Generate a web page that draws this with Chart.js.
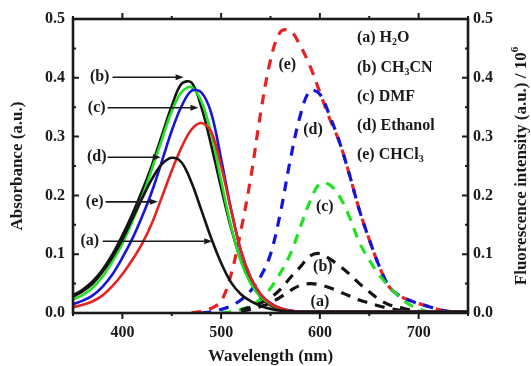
<!DOCTYPE html>
<html>
<head>
<meta charset="utf-8">
<script src="https://cdn.jsdelivr.net/npm/chart.js@4.4.0/dist/chart.umd.min.js"></script>
<style>
  html, body { margin: 0; padding: 0; background: #fff; }
  #wrap { width: 531px; height: 366px; position: relative; }
</style>
</head>
<body>
<div id="wrap"><canvas id="chart"></canvas></div>
<script>
// wavelength grid (nm), shared by every series
const wavelength = [350,360,370,380,390,400,410,420,430,440,450,460,470,480,490,500,510,520,530,540,550,
  560,570,580,590,600,610,620,630,640,650,660,670,680,690,700,710,720,730,740,750];

// absorbance (left axis), solid lines
const absA = [0.028,0.037,0.050,0.070,0.095,0.125,0.160,0.195,0.228,0.253,0.264,0.256,0.222,0.175,0.127,0.085,0.052,0.032,0.020,0.012,0.007,0.004,0.003,
  0.002,0.002,0.002,0.002,0.002,0.002,0.002,0.002,0.002,0.002,0.002,0.002,0.002,0.002,0.002,0.002,0.002,0.002];
const absB = [0.030,0.040,0.054,0.074,0.100,0.132,0.168,0.208,0.252,0.302,0.352,0.390,0.392,0.350,0.285,0.213,0.145,0.090,0.052,0.027,0.013,0.006,0.003,
  0.002,0.002,0.002,0.002,0.002,0.002,0.002,0.002,0.002,0.002,0.002,0.002,0.002,0.002,0.002,0.002,0.002,0.002];
const absC = [0.023,0.031,0.043,0.062,0.088,0.118,0.155,0.197,0.245,0.295,0.343,0.376,0.384,0.360,0.305,0.225,0.148,0.088,0.050,0.028,0.015,0.007,0.003,
  0.002,0.002,0.002,0.002,0.002,0.002,0.002,0.002,0.002,0.002,0.002,0.002,0.002,0.002,0.002,0.002,0.002,0.002];
const absD = [0.015,0.021,0.030,0.045,0.066,0.094,0.126,0.164,0.207,0.258,0.310,0.352,0.378,0.375,0.340,0.262,0.177,0.106,0.060,0.032,0.017,0.008,0.004,
  0.002,0.002,0.002,0.002,0.002,0.002,0.002,0.002,0.002,0.002,0.002,0.002,0.002,0.002,0.002,0.002,0.002,0.002];
const absE = [0.010,0.014,0.020,0.030,0.046,0.066,0.090,0.118,0.153,0.197,0.242,0.282,0.312,0.323,0.308,0.250,0.176,0.106,0.060,0.032,0.016,0.008,0.004,
  0.002,0.002,0.002,0.002,0.002,0.002,0.002,0.002,0.002,0.002,0.002,0.002,0.002,0.002,0.002,0.002,0.002,0.002];

// fluorescence (right axis, x10^6), dashed lines
const emA = [null,null,null,null,null,null,null,null,null,null,null,null,null,null,null,null,null,
  0.003,0.006,0.011,0.017,0.027,0.038,0.047,0.050,0.048,0.043,0.036,0.029,0.022,0.017,0.012,0.008,0.005,0.003,0.001,0,
  null,null,null,null];
const emB = [null,null,null,null,null,null,null,null,null,null,null,null,null,null,null,null,null,
  0.005,0.010,0.017,0.026,0.040,0.060,0.078,0.097,0.101,0.092,0.080,0.066,0.050,0.036,0.023,0.014,0.010,0.006,0.003,0,
  null,null,null,null];
const emC = [null,null,null,null,null,null,null,null,null,null,null,null,null,null,null,
  0,0.002,0.006,0.012,0.024,0.042,0.068,0.100,0.145,0.190,0.220,0.218,0.198,0.163,0.120,0.090,0.065,0.045,0.028,0.015,0.007,0.002,0,
  null,null,null];
const emD = [null,null,null,null,null,null,null,null,null,null,null,null,null,
  0,0.002,0.006,0.012,0.022,0.038,0.062,0.100,0.170,0.260,0.335,0.378,0.372,0.335,0.290,0.235,0.175,0.125,0.080,0.045,0.030,0.022,0.016,0.011,0.006,0.003,0.001,0];
const emE = [null,null,null,null,null,null,null,null,null,null,null,null,
  0,0.003,0.008,0.020,0.065,0.140,0.230,0.340,0.430,0.478,0.480,0.455,0.420,0.375,0.330,0.290,0.235,0.175,0.125,0.080,0.045,0.030,0.022,0.016,0.011,0.006,0.003,0.001,0];

const xTicks = [400, 500, 600, 700];
const yTicks = [0, 0.1, 0.2, 0.3, 0.4, 0.5];

const INK = '#1a1a1a';
const SERIF = '"Liberation Serif", "Times New Roman", serif';
const COLORS = { a: '#141414', b: '#141414', c: '#22e022', d: '#1515d8', e: '#e62222' };

// labels with arrows on the absorbance side (data units)
const absLabels = [
  { text: '(b)', x: 377, y: 0.401, from: 390, to: 462 },
  { text: '(c)', x: 374, y: 0.349, from: 385, to: 477 },
  { text: '(d)', x: 374, y: 0.265, from: 385, to: 439 },
  { text: '(e)', x: 372, y: 0.189, from: 383, to: 436 },
  { text: '(a)', x: 367, y: 0.122, from: 380, to: 491 }
];
// labels next to the emission peaks
const emLabels = [
  { text: '(e)', x: 567, y: 0.422 },
  { text: '(d)', x: 593, y: 0.311 },
  { text: '(c)', x: 605, y: 0.180 },
  { text: '(b)', x: 603, y: 0.078 },
  { text: '(a)', x: 600, y: 0.019 }
];
// solvent key, parts: [text, subscript?]
const solventKey = [
  [['(a) H', 0], ['2', 1], ['O', 0]],
  [['(b) CH', 0], ['3', 1], ['CN', 0]],
  [['(c) DMF', 0]],
  [['(d) Ethanol', 0]],
  [['(e) CHCl', 0], ['3', 1]]
];
const keyRows = [0.468, 0.417, 0.367, 0.318, 0.269];

function pts(vals) {
  return wavelength.map((w, i) => ({ x: w, y: vals[i] }));
}

function solid(label, vals, color) {
  return { label, data: pts(vals), yAxisID: 'y', borderColor: color, borderWidth: 2.6,
    pointRadius: 0, tension: 0.35, spanGaps: false };
}
function dashed(label, vals, color) {
  return { label, data: pts(vals), yAxisID: 'y1', borderColor: color, borderWidth: 3.2,
    borderDash: [10, 8], pointRadius: 0, tension: 0.35, spanGaps: false };
}

// draws text pieces with subscripts / superscripts, left aligned at x
function richText(ctx, parts, x, y, size) {
  let cx = x;
  parts.forEach(([t, kind]) => {
    const s = kind ? Math.round(size * 0.62) : size;
    ctx.font = 'bold ' + s + 'px ' + SERIF;
    const dy = kind === 1 ? size * 0.28 : (kind === 2 ? -size * 0.38 : 0);
    ctx.fillText(t, cx, y + dy);
    cx += ctx.measureText(t).width;
  });
  return cx - x;
}
function richWidth(ctx, parts, size) {
  let w = 0;
  parts.forEach(([t, kind]) => {
    const s = kind ? Math.round(size * 0.62) : size;
    ctx.font = 'bold ' + s + 'px ' + SERIF;
    w += ctx.measureText(t).width;
  });
  return w;
}

const framePlugin = {
  id: 'frame',
  afterDatasetsDraw(chart) {
    const { ctx, chartArea: a, scales } = chart;
    const sx = scales.x, sy = scales.y, sy1 = scales.y1;
    ctx.save();
    ctx.strokeStyle = INK;
    ctx.fillStyle = INK;

    // box
    ctx.lineWidth = 2.6;
    ctx.strokeRect(a.left, a.top, a.right - a.left, a.bottom - a.top);

    // x ticks (outward, top and bottom)
    ctx.lineWidth = 2;
    ctx.beginPath();
    for (let i = 0; i <= 8; i++) {
      const px = sx.getPixelForValue(350 + i * 50);
      const len = i % 2 === 1 ? 6 : 3;
      ctx.moveTo(px, a.bottom); ctx.lineTo(px, a.bottom + len);
      ctx.moveTo(px, a.top); ctx.lineTo(px, a.top - len);
    }
    // y ticks (inward, left and right)
    for (let i = 0; i <= 10; i++) {
      const py = sy.getPixelForValue(i * 0.05);
      const len = i % 2 === 0 ? 6 : 3;
      ctx.moveTo(a.left, py); ctx.lineTo(a.left + len, py);
      ctx.moveTo(a.right, py); ctx.lineTo(a.right - len, py);
    }
    ctx.stroke();

    // labels with arrows
    ctx.textBaseline = 'middle';
    ctx.textAlign = 'center';
    ctx.font = 'bold 16px ' + SERIF;
    ctx.lineWidth = 1.6;
    absLabels.forEach(l => {
      const py = sy.getPixelForValue(l.y);
      ctx.fillText(l.text, sx.getPixelForValue(l.x), py);
      const x0 = sx.getPixelForValue(l.from), x1 = sx.getPixelForValue(l.to);
      ctx.beginPath(); ctx.moveTo(x0, py); ctx.lineTo(x1 - 5, py); ctx.stroke();
      ctx.beginPath(); ctx.moveTo(x1, py); ctx.lineTo(x1 - 8, py - 3); ctx.lineTo(x1 - 8, py + 3);
      ctx.closePath(); ctx.fill();
    });
    emLabels.forEach(l => {
      ctx.fillText(l.text, sx.getPixelForValue(l.x), sy1.getPixelForValue(l.y));
    });

    // solvent key
    ctx.textAlign = 'left';
    solventKey.forEach((parts, i) => {
      richText(ctx, parts, sx.getPixelForValue(637.5), sy1.getPixelForValue(keyRows[i]), 16);
    });

    // axis titles
    ctx.textAlign = 'center';
    ctx.font = 'bold 17px ' + SERIF;
    ctx.fillText('Wavelength (nm)', (a.left + a.right) / 2, 357);

    const midY = (a.top + a.bottom) / 2;
    ctx.save();
    ctx.translate(18, midY);
    ctx.rotate(-Math.PI / 2);
    ctx.font = 'bold 17px ' + SERIF;
    ctx.fillText('Absorbance (a.u.)', 0, 0);
    ctx.restore();

    const rightTitle = [['Fluorescence intensity (a.u.) / 10', 0], ['6', 2]];
    ctx.save();
    ctx.translate(522, midY);
    ctx.rotate(-Math.PI / 2);
    ctx.textAlign = 'left';
    const w = richWidth(ctx, rightTitle, 17);
    richText(ctx, rightTitle, -w / 2, 0, 17);
    ctx.restore();

    ctx.restore();
  }
};

const tickFont = { family: SERIF, size: 16, weight: 'bold' };

new Chart(document.getElementById('chart'), {
  type: 'line',
  data: {
    datasets: [
      solid('(a) H2O abs', absA, COLORS.a),
      solid('(e) CHCl3 abs', absE, COLORS.e),
      solid('(d) Ethanol abs', absD, COLORS.d),
      solid('(c) DMF abs', absC, COLORS.c),
      solid('(b) CH3CN abs', absB, COLORS.b),
      dashed('(a) H2O em', emA, COLORS.a),
      dashed('(b) CH3CN em', emB, COLORS.b),
      dashed('(c) DMF em', emC, COLORS.c),
      dashed('(d) Ethanol em', emD, COLORS.d),
      dashed('(e) CHCl3 em', emE, COLORS.e)
    ]
  },
  options: {
    responsive: true,
    maintainAspectRatio: false,
    animation: false,
    layout: { padding: { top: 19, left: 0, right: 0, bottom: 0 } },
    plugins: { legend: { display: false }, tooltip: { enabled: false } },
    scales: {
      x: {
        type: 'linear', min: 350, max: 750,
        grid: { display: false, drawTicks: false },
        border: { display: false },
        afterBuildTicks: s => { s.ticks = xTicks.map(v => ({ value: v })); },
        afterFit: s => { s.height = 53; },
        ticks: { color: INK, font: tickFont, padding: 10, maxRotation: 0 }
      },
      y: {
        position: 'left', min: 0, max: 0.5,
        grid: { display: false, drawTicks: false },
        border: { display: false },
        afterBuildTicks: s => { s.ticks = yTicks.map(v => ({ value: v })); },
        afterFit: s => { s.width = 73; },
        ticks: { color: INK, font: tickFont, padding: 8, callback: v => v.toFixed(1) }
      },
      y1: {
        position: 'right', min: 0, max: 0.5,
        grid: { display: false, drawTicks: false },
        border: { display: false },
        afterBuildTicks: s => { s.ticks = yTicks.map(v => ({ value: v })); },
        afterFit: s => { s.width = 63; },
        ticks: { color: INK, font: tickFont, padding: 5, callback: v => v.toFixed(1) }
      }
    }
  },
  plugins: [framePlugin]
});
</script>
</body>
</html>
